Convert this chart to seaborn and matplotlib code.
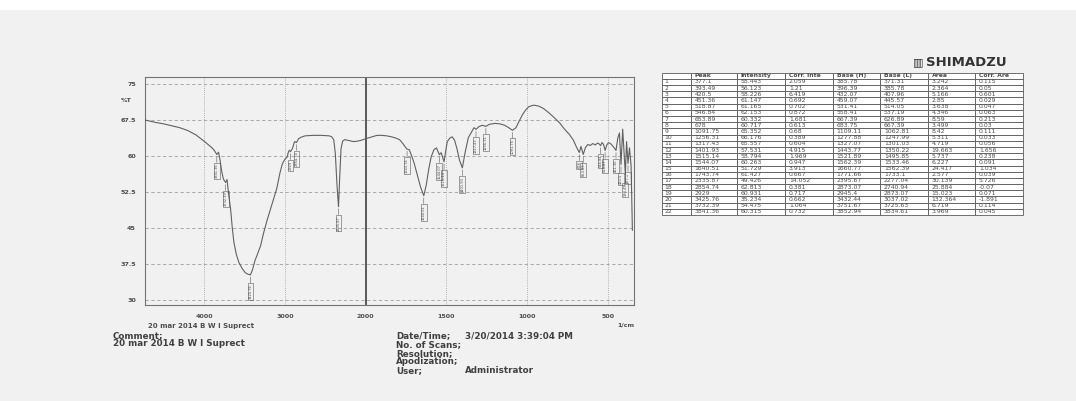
import numpy as np
import pandas as pd
import matplotlib
matplotlib.use("Agg")
import matplotlib.pyplot as plt
import seaborn as sns
from matplotlib.ticker import FixedLocator, FixedFormatter

# ---- spectrum trace (wavenumber in 1/cm, %T) ----
trace_wavenumber = [
    4730, 4600, 4500, 4400, 4300, 4200, 4100, 4000, 3950, 3900, 3870,
    3820, 3800, 3780, 3760, 3715, 3695, 3670, 3650, 3630, 3600, 3570,
    3530, 3490, 3460, 3400, 3370, 3340, 3300, 3265, 3220, 3180, 3140,
    3100, 3060, 3030, 3000, 2970, 2960, 2945, 2905, 2880, 2830, 2800,
    2750, 2650, 2550, 2450, 2420, 2395, 2375, 2355, 2320, 2305, 2285,
    2260, 2200, 2150, 2100, 2050, 2000, 1960, 1930, 1900, 1870, 1840,
    1810, 1790, 1770, 1755, 1730, 1715, 1700, 1680, 1660, 1625, 1610,
    1595, 1578, 1562, 1533, 1505, 1495, 1480, 1465, 1450, 1435, 1420,
    1385, 1365, 1345, 1330, 1300, 1280, 1235, 1200, 1170, 1140, 1115,
    1070, 1050, 1030, 1010, 990, 960, 930, 900, 870, 840, 800, 770,
    740, 715, 695, 668, 640, 625, 610, 595, 580, 565, 555, 538, 528,
    508, 498, 482, 470, 460, 440, 430, 410, 386, 368, 358, 350,
]
trace_transmittance = [
    67.5, 67.0, 66.7, 66.3, 65.9, 65.3, 64.4, 63.1, 62.4, 61.7, 61.1,
    60.8, 59.0, 56.7, 55.2, 55.1, 52.0, 48.8, 45.0, 42.0, 39.5, 37.9,
    36.6, 35.7, 35.4, 36.3, 38.2, 39.5, 41.3, 43.8, 46.6, 48.8, 51.0,
    53.2, 56.5, 58.4, 59.3, 59.8, 60.6, 61.2, 61.6, 63.0, 63.6, 63.9,
    64.2, 64.3, 64.3, 64.2, 64.0, 63.4, 60.5, 54.0, 56.0, 61.5, 63.1,
    63.4, 63.2, 63.0, 63.1, 63.3, 63.6, 64.0, 64.3, 64.3, 64.2, 64.0,
    63.7, 63.4, 62.6, 61.9, 61.3, 60.0, 58.5, 56.0, 53.5, 54.0, 57.2,
    59.8, 61.3, 61.7, 60.7, 61.0, 63.0, 63.7, 64.0, 63.3, 61.5, 59.2,
    60.7, 63.8, 65.0, 65.9, 66.1, 66.4, 66.6, 66.8, 66.7, 66.4, 65.9,
    65.9, 67.3, 68.6, 69.6, 70.3, 70.6, 70.4, 69.9, 69.1, 68.2, 66.9, 65.6,
    64.5, 63.3, 61.8, 62.0, 61.8, 62.4, 62.2, 62.6, 62.3, 62.7, 62.5, 62.8, 62.4,
    62.3, 62.8, 62.5, 62.0, 61.6, 63.8, 64.8, 65.6, 63.0, 61.7, 58.0, 44.5,
]

# ---- peak table ----
peak_no = [1, 2, 3, 4, 5, 6, 7, 8, 9, 10, 11, 12, 13, 14, 15, 16, 17, 18, 19, 20, 21, 22]
peak_wavenumber = [377.1, 393.49, 420.5, 451.36, 518.87, 546.84, 653.89, 678,
                   1091.75, 1256.31, 1317.43, 1401.93, 1515.14, 1544.07, 1640.51,
                   1743.74, 2335.87, 2854.74, 2929, 3425.76, 3732.39, 3841.36]
peak_intensity = [58.443, 56.123, 58.226, 61.147, 61.165, 62.153, 60.332, 60.717,
                  65.352, 66.176, 65.557, 57.531, 58.794, 60.263, 51.729,
                  61.427, 49.426, 62.813, 60.931, 35.234, 54.475, 60.315]
corr_intensity = [2.059, 1.21, 6.419, 0.692, 0.702, 0.872, 1.681, 0.613,
                  0.68, 0.389, 0.604, 4.915, 1.969, 0.947, 3.913,
                  0.667, 14.052, 0.381, 0.717, 0.662, 1.064, 0.732]
base_high = [385.78, 396.39, 432.07, 459.07, 531.41, 558.41, 667.39, 683.75,
             1109.11, 1277.88, 1327.07, 1443.77, 1521.89, 1562.39, 1660.77,
             1771.66, 2395.67, 2873.07, 2945.4, 3432.44, 3751.67, 3852.94]
base_low = [371.31, 385.78, 407.96, 445.57, 514.05, 537.19, 626.89, 667.39,
            1062.81, 1247.99, 1301.03, 1350.22, 1495.85, 1533.46, 1562.39,
            1733.1, 2277.04, 2740.94, 2873.07, 3037.02, 3725.63, 3834.61]
area = [3.242, 2.364, 5.166, 2.85, 3.638, 4.346, 8.59, 3.499,
        8.42, 5.311, 4.719, 19.663, 5.737, 6.227, 24.417,
        2.577, 30.139, 25.884, 15.023, 132.364, 6.719, 3.969]
corr_area = [0.115, 0.05, 0.601, 0.029, 0.047, 0.063, 0.213, 0.03,
             0.111, 0.033, 0.056, 1.656, 0.238, 0.091, 1.034,
             0.039, 5.726, -0.07, 0.071, -1.891, 0.114, 0.045]
table_columns = ["", "Peak", "Intensity", "Corr. Inte", "Base (H)", "Base (L)", "Area", "Corr. Are"]

# ---- axis labels ----
x_ticks = [4000, 3000, 2000, 1500, 1000, 500]
x_tick_labels = ["4000", "3000", "2000", "1500", "1000", "500"]
y_ticks = [30, 37.5, 45, 52.5, 60, 67.5, 75]
y_tick_labels = ["30", "37.5", "45", "52.5", "60", "67.5", "75"]
sample_name = "20 mar 2014 B W I Suprect"
info_labels = ["Date/Time;", "No. of Scans;", "Resolution;", "Apodization;", "User;"]
info_values = ["3/20/2014 3:39:04 PM", "", "", "", "Administrator"]

# merge the traced curve with the picked peak minima
spec = pd.DataFrame({
    "wavenumber": list(trace_wavenumber) + list(peak_wavenumber),
    "transmittance": list(trace_transmittance) + list(peak_intensity),
}).sort_values("wavenumber", ascending=False).reset_index(drop=True)

sns.set_style("white")
plt.rcParams["font.family"] = ["DejaVu Sans"]

W, H = 1076, 401
page = "#f1f1f1"
fig = plt.figure(figsize=(W / 100, H / 100), dpi=100, facecolor=page)
# white margin along the top of the page
fig.patches.append(plt.Rectangle((0, 1 - 10 / H), 1, 10 / H, transform=fig.transFigure,
                                 facecolor="white", edgecolor="none", zorder=0))

ax = fig.add_axes([145 / W, 96 / H, 489 / W, 228 / H])
ax.set_facecolor(page)


# wavenumber axis: above 2000 1/cm is drawn at half scale
def _fwd(w):
    w = np.asarray(w, dtype=float)
    return np.where(w > 2000, 2000 + (w - 2000) * 0.5, w)


def _inv(u):
    u = np.asarray(u, dtype=float)
    return np.where(u > 2000, 2000 + (u - 2000) * 2.0, u)


ax.set_xscale("function", functions=(_fwd, _inv))

sns.lineplot(data=spec, x="wavenumber", y="transmittance", sort=False, estimator=None,
             color="0.38", lw=0.8, ax=ax, zorder=3)

ax.set_xlim(4730, 340)
ax.set_ylim(28.96, 76.46)

ax.xaxis.set_major_locator(FixedLocator(x_ticks))
ax.xaxis.set_major_formatter(FixedFormatter(x_tick_labels))
x_minor = [w for w in range(4600, 2000, -200) if w % 1000] + \
          [w for w in range(1900, 300, -100) if w % 500]
ax.xaxis.set_minor_locator(FixedLocator(x_minor))
ax.yaxis.set_major_locator(FixedLocator(y_ticks))
ax.yaxis.set_major_formatter(FixedFormatter(y_tick_labels))
ax.yaxis.set_minor_locator(FixedLocator(np.arange(28.75, 76.3, 1.25)))

ax.tick_params(axis="both", which="major", direction="out", length=5, width=0.7,
               color="0.4", labelsize=4.6, labelcolor="0.3", pad=1.5)
ax.tick_params(axis="both", which="minor", direction="out", length=2.5, width=0.6, color="0.45")
for lab in ax.get_xticklabels() + ax.get_yticklabels():
    lab.set_fontweight("bold")

ax.grid(axis="y", which="major", color="0.62", lw=0.6, ls=(0, (4, 3)))
ax.grid(axis="x", which="major", color="0.62", lw=0.6, ls=(0, (1, 1.5)))
ax.axvline(2000, color="0.35", lw=1.4, zorder=2)
for s in ax.spines.values():
    s.set_color("0.45")
    s.set_linewidth(0.8)
ax.set_xlabel("")
ax.set_ylabel("")

# peak markers with rotated wavenumber tags
for pk, val in zip(peak_wavenumber, peak_intensity):
    ax.annotate(f"{pk:g}", xy=(pk, val), xytext=(0, -6.5), textcoords="offset points",
                rotation=90, ha="center", va="top", fontsize=2.6, color="0.3",
                bbox=dict(boxstyle="square,pad=0.25", fc="none", ec="0.35", lw=0.4),
                arrowprops=dict(arrowstyle="-", lw=0.4, color="0.35", shrinkA=0, shrinkB=1.5),
                zorder=4)

ax.text(-0.028, 0.895, "%T", transform=ax.transAxes, ha="right", va="center",
        fontsize=4.6, fontweight="bold", color="0.3")
ax.text(1.0, -0.075, "1/cm", transform=ax.transAxes, ha="right", va="top",
        fontsize=4.6, fontweight="bold", color="0.3")
ax.text(0.006, -0.08, sample_name, transform=ax.transAxes, ha="left", va="top",
        fontsize=5.0, fontweight="bold", color="0.3")

# acquisition block below the chart
txt = dict(fontsize=6.3, fontweight="bold", color="0.25", va="center")
fig.text(113 / W, 1 - 335.6 / H, "Comment;", ha="left", **txt)
fig.text(113 / W, 1 - 343.5 / H, sample_name, ha="left", **txt)
for i, (lab, val) in enumerate(zip(info_labels, info_values)):
    yy = 1 - (335.6 + i * 8.8) / H
    fig.text(396 / W, yy, lab, ha="left", **txt)
    if val:
        fig.text(465 / W, yy, val, ha="left", **txt)

# vendor mark
fig.text(913 / W, 1 - 62 / H, "\u25a5", ha="left", va="center", fontsize=8, color="0.2")
fig.text(926 / W, 1 - 62 / H, "SHIMADZU", ha="left", va="center", fontsize=9.5,
         fontweight="bold", color="0.2")

# peak table
rows = []
for i in range(len(peak_no)):
    rows.append([str(peak_no[i]), f"{peak_wavenumber[i]:g}", f"{peak_intensity[i]:g}",
                 f"{corr_intensity[i]:g}", f"{base_high[i]:g}", f"{base_low[i]:g}",
                 f"{area[i]:g}", f"{corr_area[i]:g}"])
tax = fig.add_axes([662 / W, 186 / H, 361 / W, 142.3 / H])
tax.axis("off")
col_w = np.array([29, 46, 48, 48, 47, 48, 47, 48], dtype=float)
tbl = tax.table(cellText=rows, colLabels=table_columns, colWidths=list(col_w / col_w.sum()),
                cellLoc="left", colLoc="left", bbox=[0, 0, 1, 1])
tbl.auto_set_font_size(False)
tbl.set_fontsize(4.4)
for (r, c), cell in tbl.get_celld().items():
    cell.set_edgecolor("0.35")
    cell.set_linewidth(0.6)
    cell.set_facecolor("white")
    cell.PAD = 0.08
    cell.get_text().set_color("0.3")
    if r == 0:
        cell.get_text().set_fontweight("bold")

fig.savefig("out.png", dpi=100, facecolor=page)
